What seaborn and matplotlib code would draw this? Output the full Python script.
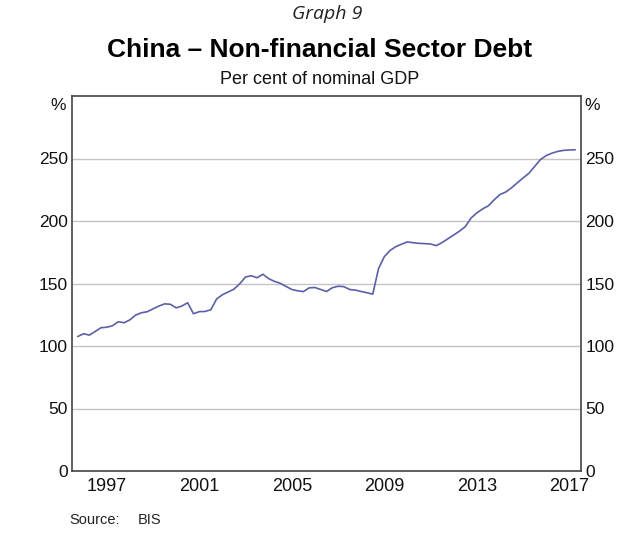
import matplotlib
matplotlib.use("Agg")
import matplotlib.pyplot as plt
import seaborn as sns
import pandas as pd

# Quarterly data, 1996Q1 .. 2017Q3 (per cent of nominal GDP)
quarters = [f"{y}Q{q}" for y in range(1996, 2018) for q in range(1, 5)][:87]
debt = [
    107.6, 109.8, 108.7, 111.6,
    114.6, 115.0, 116.2, 119.4,
    118.6, 120.9, 124.7, 126.6,
    127.4, 129.7, 131.9, 133.7,
    133.4, 130.5, 132.0, 134.6,
    125.8, 127.5, 127.6, 129.0,
    137.6, 141.0, 143.2, 145.5,
    149.8, 155.2, 156.2, 154.6,
    157.4, 153.9, 151.7, 150.2,
    147.7, 145.2, 144.2, 143.5,
    146.5, 146.8, 145.2, 143.6,
    146.6, 147.8, 147.5, 145.2,
    144.7, 143.6, 142.6, 141.5,
    162.0, 171.5, 176.5, 179.5,
    181.5, 183.3, 182.6, 182.1,
    181.9, 181.6, 180.3, 182.8,
    185.8, 188.8, 191.9, 195.5,
    202.4, 206.5, 209.7, 212.2,
    217.0, 221.2, 223.2, 226.6,
    230.6, 234.5, 238.2, 243.7,
    249.2, 252.4, 254.3, 255.7,
    256.5, 256.8, 257.0,
]
year_labels = ["1997", "2001", "2005", "2009", "2013", "2017"]
y_ticks = [0, 50, 100, 150, 200, 250]

title = "China \u2013 Non-financial Sector Debt"
subtitle = "Per cent of nominal GDP"
graph_no = "Graph 9"
source = "Source:"
source_val = "BIS"

df = pd.DataFrame({"quarter": quarters, "debt": debt})
df["x"] = df["quarter"].apply(lambda s: int(s[:4]) + int(s[-1]) / 4.0)

sns.set_style("white")
plt.rcParams["font.family"] = ["Liberation Sans", "DejaVu Sans"]

fig = plt.figure(figsize=(6.4, 5.48), dpi=100)
ax = fig.add_axes([72 / 640, 1 - 471 / 548, (581 - 72) / 640, (471 - 96) / 548])

sns.lineplot(data=df, x="x", y="debt", ax=ax, color="#5a60a6", linewidth=1.2)

ax.set_xlim(1996.0, 2018.0)
ax.set_ylim(0, 300)
ax.set_xlabel("")
ax.set_ylabel("")

ax.set_yticks(y_ticks)
ax.set_yticklabels([str(v) for v in y_ticks])
ax.tick_params(axis="y", length=0, labelsize=12.5, labelright=True, labelleft=True,
               pad=3, colors="#111111")
ax.grid(axis="y", color="#c4c4c4", linewidth=1.0)
ax.grid(axis="x", visible=False)

years = list(range(1997, 2018))
ax.set_xticks(years)
ax.set_xticklabels([])
ax.tick_params(axis="x", direction="in", length=6, width=1.0, color="#333333")
ax.set_xticks([int(y) + 0.5 for y in year_labels], minor=True)
ax.set_xticklabels(year_labels, minor=True)
ax.tick_params(axis="x", which="minor", length=0, labelsize=13, pad=5, colors="#111111")

for s in ax.spines.values():
    s.set_visible(True)
    s.set_color("#444444")
    s.set_linewidth(1.2)

ax.text(-0.012, 0.995, "%", transform=ax.transAxes, ha="right", va="top", fontsize=12.5, color="#111111")
ax.text(1.006, 0.995, "%", transform=ax.transAxes, ha="left", va="top", fontsize=12.5, color="#111111")

fig.text(0.512, 1 - 14 / 548, graph_no, ha="center", va="center", fontsize=14, style="italic",
         color="#222222", family=["Open Sans", "DejaVu Sans"])
fig.text(0.5, 1 - 50 / 548, title, ha="center", va="center", fontsize=19, fontweight="bold",
         color="#000000")
fig.text(0.5, 1 - 79 / 548, subtitle, ha="center", va="center", fontsize=13, color="#111111")
fig.text(69 / 640, 1 - 520 / 548, source, ha="left", va="center", fontsize=10.5, color="#222222")
fig.text(138 / 640, 1 - 520 / 548, source_val, ha="left", va="center", fontsize=10.5, color="#222222")

fig.savefig("out.png", dpi=100, facecolor="white")
